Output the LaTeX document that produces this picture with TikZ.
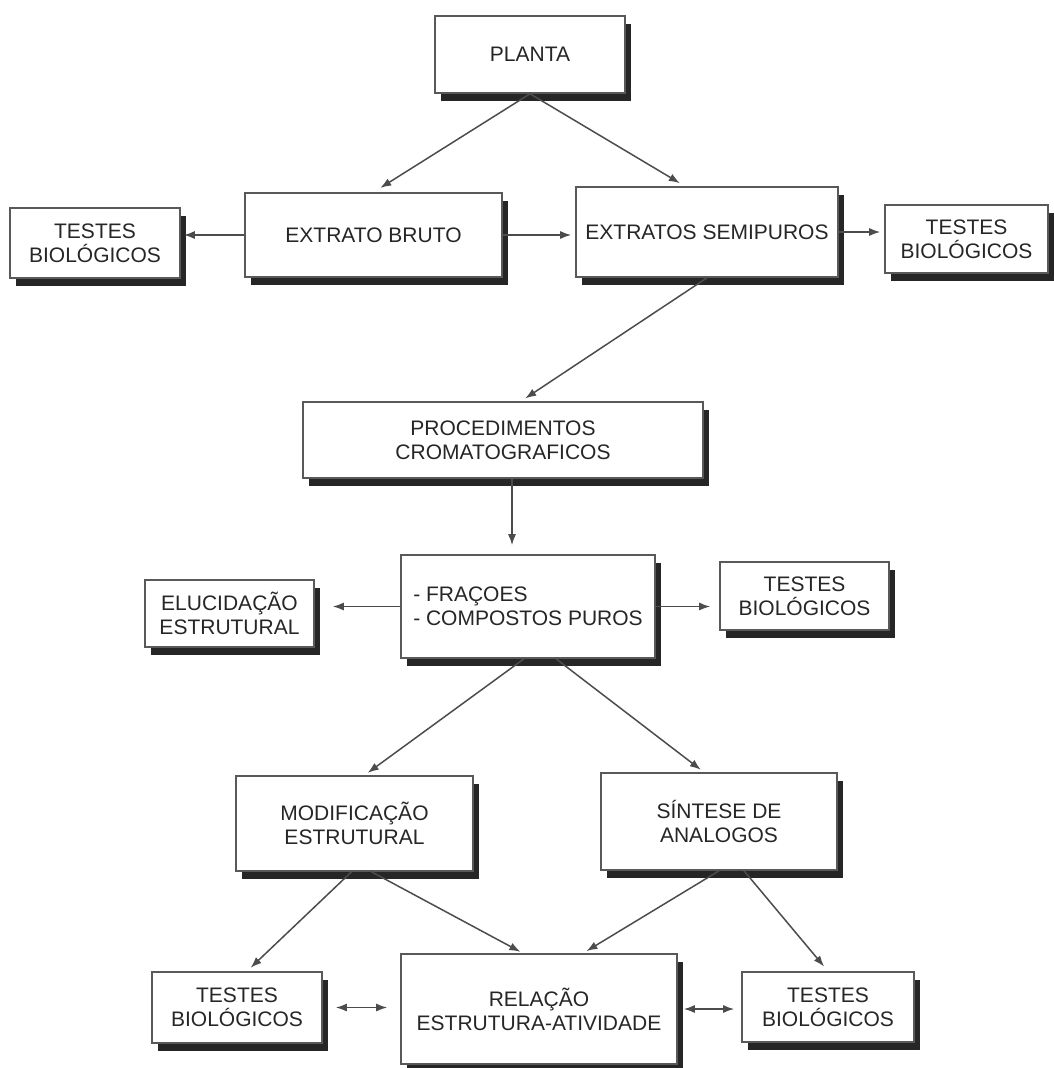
\documentclass[tikz,border=0pt]{standalone}
\usepackage{fontspec}
\newfontfamily\caixafont{Liberation Sans}
\usetikzlibrary{shadows,arrows.meta}
\tikzset{
    caixa/.style={draw=black!65, line width=1.6pt, fill=white, rectangle,
        drop shadow={shadow xshift=6pt, shadow yshift=-8pt, fill=black!85, opacity=1},
        align=center, text=black!85, inner sep=2pt,
        font=\caixafont\fontsize{21}{24}\selectfont},
    seta/.style={draw=black!70, line width=1.5pt, -{Latex[length=11pt,width=8pt]}},
    setadupla/.style={draw=black!70, line width=1.5pt, {Latex[length=11pt,width=8pt]}-{Latex[length=11pt,width=8pt]}}
}
\begin{document}
\begin{tikzpicture}[x=1pt, y=-1pt]
            \useasboundingbox (0,0) rectangle (1053,1068);
            \node[caixa, minimum width=190pt, minimum height=77pt] (planta) at (530,54.5) {PLANTA};
            \node[caixa, minimum width=170pt, minimum height=70pt] (testesA) at (95,243) {TESTES\\BIOLÓGICOS};
            \node[caixa, minimum width=257pt, minimum height=84pt] (bruto) at (373.5,235) {EXTRATO BRUTO};
            \node[caixa, minimum width=262pt, minimum height=90pt] (semi) at (707,232) {EXTRATOS SEMIPUROS};
            \node[caixa, minimum width=163pt, minimum height=68pt] (testesB) at (966.5,239) {TESTES\\BIOLÓGICOS};
            \node[caixa, minimum width=400pt, minimum height=76pt] (proc) at (503,440) {PROCEDIMENTOS\\CROMATOGRAFICOS};
            \node[caixa, minimum width=254pt, minimum height=103pt, align=left] (fracoes) at (528,606.5) {- FRAÇOES\\- COMPOSTOS PUROS};
            \node[caixa, minimum width=169pt, minimum height=67pt] (eluc) at (229.5,613.5) {ELUCIDAÇÃO\\ESTRUTURAL};
            \node[caixa, minimum width=169pt, minimum height=68pt] (testesC) at (804.5,596) {TESTES\\BIOLÓGICOS};
            \node[caixa, minimum width=237pt, minimum height=95pt] (modif) at (354.5,823.5) {MODIFICAÇÃO\\ESTRUTURAL};
            \node[caixa, minimum width=236pt, minimum height=97pt] (sintese) at (719,821.5) {SÍNTESE DE\\ANALOGOS};
            \node[caixa, minimum width=170pt, minimum height=71pt] (testesD) at (237,1007.5) {TESTES\\BIOLÓGICOS};
            \node[caixa, minimum width=276pt, minimum height=110pt] (relacao) at (539,1009) {RELAÇÃO\\ESTRUTURA-ATIVIDADE};
            \node[caixa, minimum width=172pt, minimum height=70pt] (testesE) at (828,1007) {TESTES\\BIOLÓGICOS};

            \draw[seta, shorten >=8pt] (planta.south) -- (bruto.north);
            \draw[seta, shorten >=6pt] (planta.south) -- ([xshift=-22pt]semi.north);
            \draw[seta, shorten >=3pt] (bruto.west) -- (bruto.west -| testesA.east);
            \draw[seta, shorten >=4pt] (bruto.east) -- (bruto.east -| semi.west);
            \draw[seta, shorten >=4pt] (semi.east) -- (semi.east -| testesB.west);
            \draw[seta, shorten >=5pt] (semi.south) -- ([xshift=18pt]proc.north);
            \draw[seta, shorten >=9pt] ([xshift=9pt]proc.south) -- ([xshift=-16pt]fracoes.north);
            \draw[seta, shorten >=18pt] (fracoes.west) -- (fracoes.west -| eluc.east);
            \draw[seta, shorten >=9pt] (fracoes.east) -- (fracoes.east -| testesC.west);
            \draw[seta, shorten >=4pt] ([xshift=-4pt]fracoes.south) -- ([xshift=10pt]modif.north);
            \draw[seta, shorten >=4pt] ([xshift=28pt]fracoes.south) -- ([xshift=-15pt]sintese.north);
            \draw[seta, shorten >=5pt] ([xshift=-3pt]modif.south) -- ([xshift=10pt]testesD.north);
            \draw[seta, shorten >=3pt] ([xshift=17pt]modif.south) -- ([xshift=-16pt]relacao.north);
            \draw[seta, shorten >=4pt] (sintese.south) -- ([xshift=44pt]relacao.north);
            \draw[seta, shorten >=6pt] ([xshift=25pt]sintese.south) -- (testesE.north);
            \draw[setadupla, shorten <=13pt, shorten >=13pt] (testesD.east) -- (testesD.east -| relacao.west);
            \draw[setadupla, shorten <=6pt, shorten >=7pt] (relacao.east) -- (relacao.east -| testesE.west);
        \end{tikzpicture}
\end{document}
